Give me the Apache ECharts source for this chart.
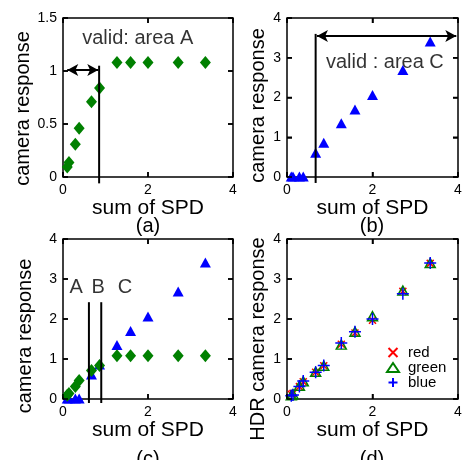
<!DOCTYPE html>
<html>
<head>
<meta charset="utf-8">
<script src="https://cdn.jsdelivr.net/npm/echarts@6/dist/echarts.min.js"></script>
<style>
    html, body {margin: 0; padding: 0; background: #fff;}
    #chart_id {width: 467px; height: 460px;}
</style>
</head>
<body>
<div id="chart_id"></div>
<script>
//入射光谱之和（横坐标）
var spd = [0.10, 0.14, 0.29, 0.38, 0.67, 0.86, 1.27, 1.59, 2.00, 2.71, 3.35];
//绿色通道相机响应（饱和）
var greenResp = [0.095, 0.136, 0.31, 0.46, 0.71, 0.84, 1.08, 1.08, 1.08, 1.08, 1.08];
//蓝色通道相机响应
var blueResp = [0.01, 0.01, 0.01, 0.01, 0.61, 0.86, 1.35, 1.70, 2.06, 2.69, 3.41];
//HDR 合成后的响应
var hdrRed = [0.12, 0.14, 0.31, 0.43, 0.67, 0.83, 1.37, 1.65, 1.97, 2.69, 3.39];
var hdrGreen = [0.09, 0.12, 0.33, 0.44, 0.68, 0.83, 1.36, 1.68, 2.07, 2.71, 3.40];
var hdrBlue = [0.08, 0.10, 0.31, 0.45, 0.67, 0.84, 1.40, 1.68, 2.00, 2.63, 3.40];
//刻度
var xTicks = [0, 2, 4];
var yTicksA = [0, 0.5, 1, 1.5];
var yTicks = [0, 1, 2, 3, 4];
//标注
var areaA = {lineX: 0.85, lineTop: 1.05, lineBottom: -0.06, arrowY: 1.01, arrowFrom: 0.1, arrowTo: 0.83, text: "valid: area A", textX: 1.76, textY: 1.31};
var areaC = {lineX: 0.67, lineTop: 3.6, lineBottom: -0.15, arrowY: 3.55, arrowFrom: 0.7, arrowTo: 3.96, text: "valid : area C", textX: 2.29, textY: 2.89};
var abcLines = [0.61, 0.9];
var abcTop = 2.42, abcBottom = -0.1;
var abcLabels = ["A", "B", "C"];
var abcX = [0.31, 0.83, 1.46];
var abcY = 2.8;
var captions = ["(a)", "(b)", "(c)", "(d)"];

var FONT = "Liberation Sans, Arial, sans-serif";
var TICK = 5;

initChart();

function initChart() {
    var myChart = echarts.init(document.getElementById("chart_id"));
    var grids = [
        {left: 63, top: 18, width: 170, height: 159},
        {left: 287, top: 18, width: 171, height: 159},
        {left: 63, top: 239, width: 170, height: 160},
        {left: 287, top: 239, width: 171, height: 160}
    ];
    for (var g = 0; g < grids.length; g++) {
        grids[g].show = true;
        grids[g].borderColor = "#000";
        grids[g].borderWidth = 1.5;
        grids[g].backgroundColor = "rgba(0,0,0,0)";
    }
    var yTickList = [yTicksA, yTicks, yTicks, yTicks];
    var yNames = ["camera response", "camera response", "camera response", "HDR camera response"];
    var yNameGap = [28, 19, 28, 19];
    var yNameShift = [22, 16, 34, 40];
    var xAxis = [], yAxis = [];
    for (var i = 0; i < 4; i++) {
        xAxis.push(makeAxis(i, "bottom", xTicks, "sum of SPD", 20, 0));
        xAxis.push(makeAxis(i, "top", xTicks, "", 0, 0));
        yAxis.push(makeAxis(i, "left", yTickList[i], yNames[i], yNameGap[i], yNameShift[i]));
        yAxis.push(makeAxis(i, "right", yTickList[i], "", 0, 0));
    }

    var series = [];
    //边框内侧刻度（四条边都有）
    for (var t = 0; t < 4; t++) {
        series.push(tickSeries(t, xTicks, yTickList[t]));
    }
    //(a)
    series.push(scatter("dA", 0, zip(spd, greenResp), "diamond", [11, 13], "#008000",
        [arrow(areaA.arrowFrom, areaA.arrowTo, areaA.arrowY)]));
    series.push(vLine(0, areaA.lineX, areaA.lineTop, areaA.lineBottom));
    series.push(textSeries(0, [[areaA.textX, areaA.textY, areaA.text]]));
    //(b)
    series.push(scatter("tB", 1, zip(spd, blueResp), "triangle", [11, 10], "#0000ff",
        [arrow(areaC.arrowFrom, areaC.arrowTo, areaC.arrowY)]));
    series.push(vLine(1, areaC.lineX, areaC.lineTop, areaC.lineBottom));
    series.push(textSeries(1, [[areaC.textX, areaC.textY, areaC.text]]));
    //(c)
    series.push(scatter("tC", 2, zip(spd, blueResp), "triangle", [11, 10], "#0000ff", []));
    series.push(scatter("dC", 2, zip(spd, greenResp), "diamond", [11, 13], "#008000", []));
    for (var m = 0; m < abcLines.length; m++) {
        series.push(vLine(2, abcLines[m], abcTop, abcBottom));
    }
    var abc = [];
    for (var k = 0; k < abcLabels.length; k++) {
        abc.push([abcX[k], abcY, abcLabels[k]]);
    }
    series.push(textSeries(2, abc));
    //(d)
    series.push(outlined("red", zip(spd, hdrRed), "path://M0,0L10,10M10,0L0,10", 7, "#ff0000"));
    series.push(outlined("green", zip(spd, hdrGreen), "triangle", [10, 9], "#008000"));
    series.push(outlined("blue", zip(spd, hdrBlue), "path://M5,0L5,10M0,5L10,5", 12, "#0000ff"));

    var titles = [];
    var capPos = [[148, 216], [372, 216], [148, 449], [372, 449]];
    for (var c = 0; c < 4; c++) {
        titles.push({
            text: captions[c], left: capPos[c][0], top: capPos[c][1], textAlign: "center",
            padding: 0,
            textStyle: {fontFamily: FONT, fontSize: 20, fontWeight: "normal", color: "#000"}
        });
    }

    var option = {
        animation: false,
        backgroundColor: "#fff",
        title: titles,
        grid: grids,
        xAxis: xAxis,
        yAxis: yAxis,
        legend: {
            data: ["red", "green", "blue"],
            orient: "vertical",
            left: 386,
            top: 345,
            itemWidth: 12,
            itemHeight: 9,
            itemGap: 0,
            padding: 0,
            selectedMode: false,
            textStyle: {fontFamily: FONT, fontSize: 15, lineHeight: 14, color: "#000", padding: [0, 0, 0, 4]}
        },
        series: series
    };
    myChart.setOption(option, true);
}

//轴向内偏移 TICK 像素，刻度朝外画，看起来就是边框内侧的刻度；轴线本身透明
function makeAxis(gridIndex, position, ticks, name, nameGap, nameShift) {
    var main = position === "bottom" || position === "left";
    return {
        type: "value",
        gridIndex: gridIndex,
        position: position,
        offset: -TICK,
        min: ticks[0],
        max: ticks[ticks.length - 1],
        interval: ticks[1] - ticks[0],
        name: name,
        nameLocation: "middle",
        nameGap: nameGap + TICK,
        nameTextStyle: {fontFamily: FONT, fontSize: position === "bottom" ? 21 : 20, color: "#000",
            padding: [0, nameShift, 0, 0]},
        axisLine: {show: true, onZero: false, lineStyle: {color: "rgba(0,0,0,0)", width: 1}},
        axisTick: {show: true, inside: false, length: TICK, lineStyle: {color: "#000", width: 1.5}},
        axisLabel: {show: main, margin: 6 + TICK, fontFamily: FONT, fontSize: 14, color: "#000"},
        splitLine: {show: false}
    };
}

//备用：custom 系列画四边朝内的刻度线，每条数据为 [刻度值, 0=横轴/1=纵轴]
function tickSeries(gridIndex, xt, yt) {
    var data = [];
    for (var i = 0; i < xt.length; i++) {
        data.push([xt[i], 0]);
    }
    for (var j = 0; j < yt.length; j++) {
        data.push([yt[j], 1]);
    }
    var xMin = xt[0], xMax = xt[xt.length - 1];
    var yMin = yt[0], yMax = yt[yt.length - 1];
    return {
        type: "custom",
        xAxisIndex: gridIndex * 2,
        yAxisIndex: gridIndex * 2,
        data: data,
        silent: true,
        clip: false,
        z: 5,
        renderItem: function (params, api) {
            var v = api.value(0);
            var isY = api.value(1) === 1;
            var style = {stroke: "#000", lineWidth: 1.5, fill: null};
            var a, b;
            if (isY) {
                a = api.coord([xMin, v]);
                b = api.coord([xMax, v]);
                return {type: "group", children: [
                    {type: "line", shape: {x1: a[0], y1: a[1], x2: a[0] + TICK, y2: a[1]}, style: style},
                    {type: "line", shape: {x1: b[0], y1: b[1], x2: b[0] - TICK, y2: b[1]}, style: style}
                ]};
            }
            a = api.coord([v, yMin]);
            b = api.coord([v, yMax]);
            return {type: "group", children: [
                {type: "line", shape: {x1: a[0], y1: a[1], x2: a[0], y2: a[1] - TICK}, style: style},
                {type: "line", shape: {x1: b[0], y1: b[1], x2: b[0], y2: b[1] + TICK}, style: style}
            ]};
        }
    };
}

function zip(xs, ys) {
    var out = [];
    for (var i = 0; i < xs.length; i++) {
        out.push([xs[i], ys[i]]);
    }
    return out;
}

function arrow(x1, x2, y) {
    return [{coord: [x1, y], symbol: "arrow"}, {coord: [x2, y], symbol: "arrow"}];
}

//竖直分界线（允许伸出坐标轴下方）
function vLine(gridIndex, x, top, bottom) {
    return {
        type: "line",
        xAxisIndex: gridIndex * 2,
        yAxisIndex: gridIndex * 2,
        data: [[x, top], [x, bottom]],
        showSymbol: false,
        symbol: "none",
        clip: false,
        silent: true,
        lineStyle: {color: "#000", width: 2},
        z: 4
    };
}

function scatter(name, gridIndex, data, symbol, size, color, arrows) {
    var s = {
        name: name,
        type: "scatter",
        xAxisIndex: gridIndex * 2,
        yAxisIndex: gridIndex * 2,
        data: data,
        symbol: symbol,
        symbolSize: size,
        clip: false,
        silent: true,
        itemStyle: {color: color, opacity: 1},
        z: 3
    };
    if (arrows.length) {
        s.markLine = {
            silent: true,
            animation: false,
            symbolSize: [9, 11],
            label: {show: false},
            lineStyle: {color: "#000", width: 2, type: "solid", opacity: 1},
            emphasis: {disabled: true},
            data: arrows
        };
    }
    return s;
}

function outlined(name, data, symbol, size, color) {
    return {
        name: name,
        type: "scatter",
        xAxisIndex: 6,
        yAxisIndex: 6,
        data: data,
        symbol: symbol,
        symbolSize: size,
        silent: true,
        itemStyle: {color: "rgba(0,0,0,0)", borderColor: color, borderWidth: 1.5, opacity: 1},
        z: 3
    };
}

function textSeries(gridIndex, items) {
    return {
        type: "scatter",
        xAxisIndex: gridIndex * 2,
        yAxisIndex: gridIndex * 2,
        data: items,
        symbolSize: 0,
        silent: true,
        clip: false,
        label: {
            show: true,
            position: "inside",
            formatter: function (p) { return p.data[2]; },
            fontFamily: FONT,
            fontSize: 20,
            color: "#000"
        }
    };
}
</script>
</body>
</html>
